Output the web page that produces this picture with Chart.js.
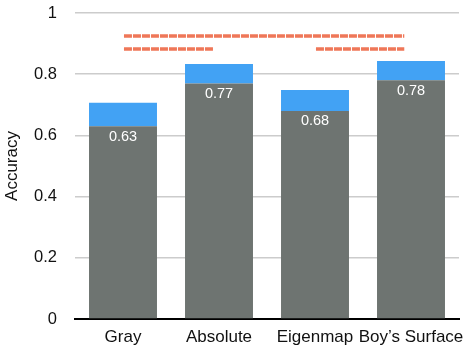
<!DOCTYPE html>
<html>
<head>
<meta charset="utf-8">
<script src="https://cdn.jsdelivr.net/npm/chart.js@4/dist/chart.umd.min.js"></script>
<style>
html,body{margin:0;padding:0;background:#fff;}
#wrap{width:474px;height:354px;position:relative;}
</style>
</head>
<body>
<div id="wrap"><canvas id="c" width="474" height="354"></canvas></div>
<script>
const categories = ["Gray", "Absolute", "Eigenmap", "Boy\u2019s Surface"];
const baseValues = [0.63, 0.77, 0.68, 0.78];
const extraValues = [0.077, 0.063, 0.068, 0.063];
const baseLabels = ["0.63", "0.77", "0.68", "0.78"];
const yTicks = [0, 0.2, 0.4, 0.6, 0.8, 1];
const sigLineTop = [{x: 0.01, y: 0.925}, {x: 2.93, y: 0.925}];
const sigLineLeft = [{x: 0.01, y: 0.882}, {x: 0.94, y: 0.882}];
const sigLineRight = [{x: 2.01, y: 0.882}, {x: 2.93, y: 0.882}];

const FONT = "'Liberation Sans', Arial, Helvetica, sans-serif";
const RED = '#ef7758';

const labelPlugin = {
  id: 'barLabels',
  afterDatasetsDraw(chart) {
    const meta = chart.getDatasetMeta(0);
    const ctx = chart.ctx;
    ctx.save();
    ctx.fillStyle = '#ffffff';
    ctx.font = '14.5px ' + FONT;
    ctx.textAlign = 'center';
    ctx.textBaseline = 'middle';
    meta.data.forEach((el, i) => {
      ctx.fillText(baseLabels[i], el.x, el.y + 10.5);
    });
    ctx.restore();
  }
};

const lineDs = (data, st) => ({
  type: 'line', data: data, xAxisID: 'x2', yAxisID: 'y2', stack: st,
  borderColor: RED, borderWidth: 3.5, pointRadius: 0, borderDash: [8, 1],
  fill: false, tension: 0, borderCapStyle: 'butt', order: 0
});

new Chart(document.getElementById('c'), {
  type: 'bar',
  data: {
    labels: categories,
    datasets: [
      {data: baseValues, stack: 'main', grouped: false, backgroundColor: '#6e7471', barPercentage: 0.708, categoryPercentage: 1, order: 2},
      {data: extraValues, stack: 'main', grouped: false, backgroundColor: '#42a2f4', barPercentage: 0.708, categoryPercentage: 1, order: 2},
      lineDs(sigLineTop, 'l1'), lineDs(sigLineLeft, 'l2'), lineDs(sigLineRight, 'l3')
    ]
  },
  options: {
    responsive: false,
    animation: false,
    layout: {padding: {top: 13, right: 15, left: 0, bottom: 0}},
    plugins: {legend: {display: false}, tooltip: {enabled: false}},
    scales: {
      x: {
        stacked: true,
        grid: {display: false, drawTicks: false},
        border: {display: true, color: '#000', width: 2},
        ticks: {color: '#111', font: {family: FONT, size: 17}, padding: 8, maxRotation: 0, autoSkip: false},
        afterFit(s) { s.height = 35; s.paddingLeft = 0; s.paddingRight = 0; }
      },
      y: {
        stacked: true, min: 0, max: 1,
        afterBuildTicks(s) { s.ticks = yTicks.map(v => ({value: v})); },
        grid: {color: '#cccccc', lineWidth: 1.5, drawTicks: false},
        border: {display: false},
        ticks: {color: '#111', font: {family: FONT, size: 16.5}, padding: 18,
          callback: v => String(v)},
        title: {display: true, text: 'Accuracy', color: '#111', font: {family: FONT, size: 17}, padding: {top: 2, bottom: 0}},
        afterFit(s) { s.width = 75; s.paddingTop = 0; s.paddingBottom = 0; }
      },
      x2: {type: 'linear', display: false, offset: false, min: -0.5, max: 3.5},
      y2: {type: 'linear', display: false, offset: false, min: 0, max: 1}
    }
  },
  plugins: [labelPlugin]
});
</script>
</body>
</html>
